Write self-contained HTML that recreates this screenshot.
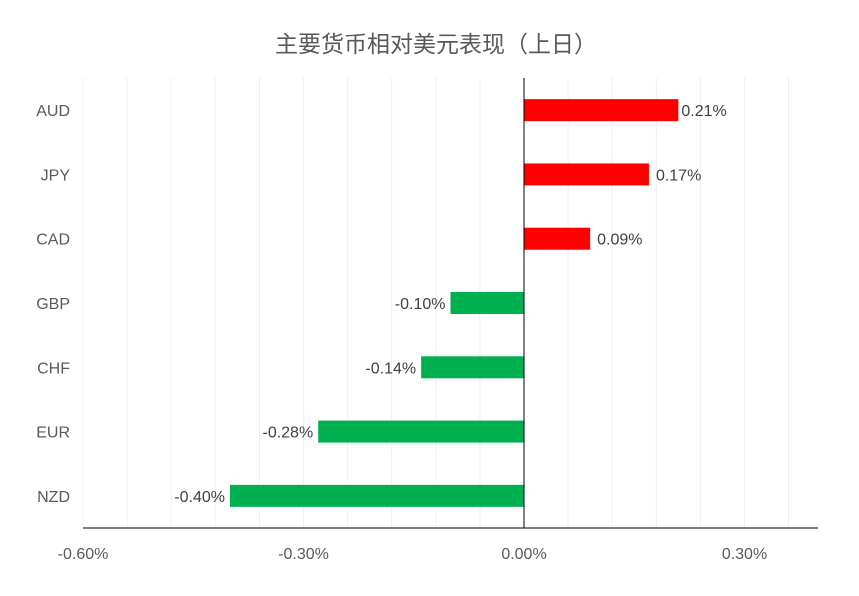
<!DOCTYPE html>
<html><head><meta charset="utf-8"><style>
body{margin:0;background:#fff;font-family:"Liberation Sans","Noto Sans CJK SC",sans-serif}
</style></head><body>
<svg width="859" height="591" id="c" xmlns="http://www.w3.org/2000/svg">
<text x="436" y="52" text-anchor="middle" font-size="23" fill="#595959" font-family="Liberation Sans, Noto Sans CJK SC, sans-serif">主要货币相对美元表现（上日）</text>
</svg>
<script>
const categories=["AUD","JPY","CAD","GBP","CHF","EUR","NZD"];
const values=[0.21,0.17,0.09,-0.10,-0.14,-0.28,-0.40];
const valueLabels=["0.21%","0.17%","0.09%","-0.10%","-0.14%","-0.28%","-0.40%"];
const tickValues=[-0.6,-0.3,0,0.3];
const tickLabels=["-0.60%","-0.30%","0.00%","0.30%"];
const svg=document.getElementById('c');const NS="http://www.w3.org/2000/svg";
const X0=83,X1=818,Y0=78,Y1=528,xmin=-0.6,xmax=0.4;
const x=v=>X0+(v-xmin)/(xmax-xmin)*(X1-X0);
const band=(Y1-Y0)/categories.length;
const yc=i=>Y0+band*(i+0.5);
function mk(t,a){const e=document.createElementNS(NS,t);for(const k in a)e.setAttribute(k,a[k]);svg.appendChild(e);return e;}
for(let k=0;k<=16;k++){const v=xmin+k*0.06;if(v>xmax+1e-9)break;
const g=mk('line',{x1:x(v),x2:x(v),y1:Y0,y2:Y1,stroke:'#efefef','stroke-width':1});

}
categories.forEach((c,i)=>{const v=values[i];
const r=mk('rect',{x:Math.min(x(0),x(v)),y:yc(i)-11,width:Math.abs(x(v)-x(0)),height:22,fill:v>=0?'#ff0000':'#00b050'});


const t=mk('text',{x:v>=0?x(v)+3+(v<0.2?4:0):x(v)-5,y:yc(i)+6,'text-anchor':v>=0?'start':'end','font-size':16,fill:'#404040'});t.textContent=valueLabels[i];


const l=mk('text',{x:70,y:yc(i)+6,'text-anchor':'end','font-size':16,fill:'#595959'});l.textContent=c;

});
const za=mk('line',{x1:x(0),x2:x(0),y1:Y0,y2:Y1,stroke:'#000','stroke-width':1});


const xa=mk('line',{x1:X0,x2:X1,y1:Y1,y2:Y1,stroke:'#000','stroke-width':1});


tickValues.forEach((v,i)=>{const t=mk('text',{x:x(v),y:559,'text-anchor':'middle','font-size':16,fill:'#595959'});t.textContent=tickLabels[i];

});
</script>
</body></html>
